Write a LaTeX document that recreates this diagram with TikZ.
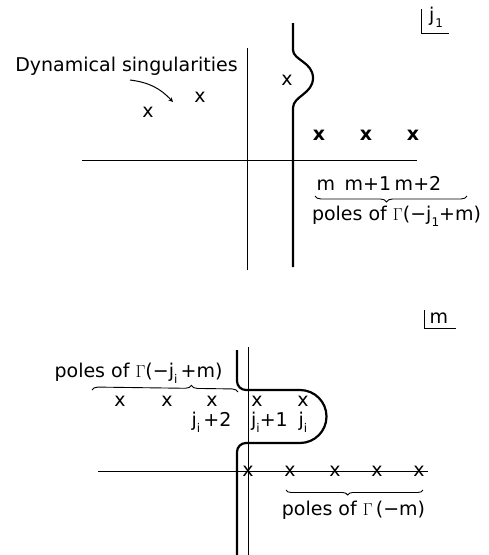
\documentclass[tikz,border=0pt]{standalone}
\usepackage{fontspec}
\setmainfont{DejaVu Sans}
\usetikzlibrary{decorations.pathreplacing}
\newcommand{\lowidx}[1]{\raisebox{-0.6ex}{\fontsize{12}{12}\selectfont #1}}
\begin{document}
\begin{tikzpicture}[x=1pt,y=-1pt]
\tikzset{>=stealth,
  axis/.style={line width=1pt},
  contour/.style={line width=2.2pt},
  lbl/.style={font=\fontsize{19}{19}\selectfont, inner sep=0pt, anchor=base},
  pole/.style={font=\fontsize{19}{19}\selectfont, inner sep=0pt},
  brc/.style={decorate, decoration={brace, amplitude=6pt}, line width=0.9pt}}
\useasboundingbox (0,0) rectangle (489,555);

% upper plane, j_1
\draw[axis] (82,160) -- (417,160);
\draw[axis] (247,48) -- (247,270);
\draw[contour] (293,23) -- (293,50) .. controls (293,60) and (313,62) .. (313,78)
  .. controls (313,94) and (293,96) .. (293,108) -- (293,267);
\draw[axis] (421,9) |- (449,33);
\node[lbl, anchor=base west] (jlab) at (429,21) {j\kern1pt\lowidx{1}};

\node[pole] (s1) at (148,112) {x};
\node[pole] (s2) at (200,97) {x};
\node[pole] (s3) at (287,80) {x};
\foreach \x/\n in {319/a,366/b,413/c}
\node[pole, font=\fontsize{19}{19}\selectfont\bfseries] (p\n) at (\x,135) {x};

\node[lbl] (dyn) at (126.5,71) {Dynamical singularities};
\coordinate (arrS) at (130,80);
\coordinate (arrE) at (173,102);
\draw[->, line width=1pt] (arrS) to[bend left=20] (arrE);

\node[lbl] (mA) at (326,190) {m};
\node[lbl] (mB) at (368,190) {m+1};
\node[lbl] (mC) at (418,190) {m+2};
\draw[brc, decoration={mirror, aspect=0.47}] (315,196) -- (467,196);
\node[lbl] (polesT) at (396.5,220) {poles of $\Gamma$(−j\lowidx{1}+m)};

% lower plane, m
\draw[axis] (98,471) -- (428,471);
\draw[axis] (248,347) -- (248,555);
\draw[contour] (237,350) -- (237,381) arc[start angle=180, end angle=90, radius=9]
  -- (300,390) arc[start angle=-90, end angle=90, radius=26.5]
  -- (246,443) arc[start angle=-90, end angle=-180, radius=9] -- (237,555);
\draw[axis] (424,310) |- (456,328);
\node[lbl] (mlab) at (439,323) {m};

\node[lbl] (polesJ) at (138.5,377) {poles of $\Gamma$(−j\lowidx{i}\,+m)};
\draw[brc, decoration={aspect=0.68}] (92,390) -- (238,392);
\foreach \x/\n in {120/a,167/b,212/c,257/d,303/e}
\node[pole] (q\n) at (\x,401) {x};
\node[lbl] (jA) at (211.5,426) {j\lowidx{i}\,+2};
\node[lbl] (jB) at (269.5,426) {j\lowidx{i}+1};
\node[lbl] (jC) at (303,426) {j\lowidx{i}};

\foreach \x/\n in {248/a,290/b,335/c,377/d,419/e}
\node[pole] (r\n) at (\x,471) {x};
\draw[brc, decoration={mirror, aspect=0.45, amplitude=5pt}] (286,490) -- (423,490);
\node[lbl] (polesM) at (353.5,515) {poles of $\Gamma$\,(−m)};
\end{tikzpicture}
\end{document}
